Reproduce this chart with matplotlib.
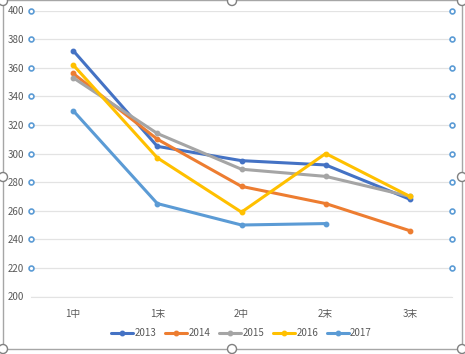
import numpy as np
import matplotlib.pyplot as plt
from matplotlib.patches import Rectangle, Ellipse

plt.rcParams['font.family'] = ['Noto Sans CJK JP', 'DejaVu Sans']

categories = ['1中', '1末', '2中', '2末', '3末']
years = ['2013', '2014', '2015', '2016', '2017']
s2013 = [372, 305, 295, 292, 268]
s2014 = [356, 310, 277, 265, 246]
s2015 = [353, 314, 289, 284, 270]
s2016 = [362, 297, 259, 300, 270]
s2017 = [330, 265, 250, 251, np.nan]
series = [s2013, s2014, s2015, s2016, s2017]
colors = ['#4472C4', '#ED7D31', '#A5A5A5', '#FFC000', '#5B9BD5']
yticks = [200, 220, 240, 260, 280, 300, 320, 340, 360, 380, 400]

W, H = 465, 354
fig = plt.figure(figsize=(W / 100, H / 100), dpi=100)
ax = fig.add_axes([31 / W, 1 - 296.5 / H, (452 - 31) / W, (296.5 - 10.5) / H])

x = np.arange(len(categories))
for vals, c, lab in zip(series, colors, years):
    ax.plot(x, vals, color=c, lw=2.2, marker='o', ms=3.2, label=lab,
            solid_capstyle='round', zorder=3)

ax.set_xlim(-0.5, 4.5)
ax.set_ylim(200, 400)
ax.set_yticks(yticks)
ax.set_xticks(x)
ax.set_xticklabels(categories)
ax.grid(axis='y', color='#E3E3E3', lw=0.9)
ax.set_axisbelow(True)
for s in ['top', 'right', 'left']:
    ax.spines[s].set_visible(False)
ax.spines['bottom'].set_color('#E3E3E3')
ax.tick_params(length=0, labelsize=7, colors='#595959')
ax.tick_params(axis='y', pad=5)
ax.tick_params(axis='x', pad=9)

# selection handles on the gridlines
hy = yticks[1:]
ax.plot([-0.5] * len(hy), hy, ls='none', marker='o', ms=3.5, mfc='white',
        mec='#5B9BD5', mew=1.2, clip_on=False, zorder=4)
ax.plot([4.5] * len(hy), hy, ls='none', marker='o', ms=3.5, mfc='white',
        mec='#5B9BD5', mew=1.2, clip_on=False, zorder=4)

leg = ax.legend(loc='center', bbox_to_anchor=(0.5, (333 - 296.5) / -286),
                ncol=5, frameon=False, fontsize=7, handlelength=2.3,
                columnspacing=0.9, handletextpad=0.1, labelcolor='#595959')

# chart border and frame handles
fig.add_artist(Rectangle((3 / W, 1 - 349 / H), 459 / W, 349 / H,
                         transform=fig.transFigure, fill=False,
                         ec='#A6A6A6', lw=1))
for px, py in [(3, 177), (462, 177), (3, 349), (232, 349), (462, 349),
               (232, 1), (3, 1), (462, 1)]:
    fig.add_artist(Ellipse((px / W, 1 - py / H), 9 / W, 9 / H,
                           transform=fig.transFigure, fc='white',
                           ec='#808080', lw=1, zorder=10))

fig.savefig('out.png', dpi=100)
